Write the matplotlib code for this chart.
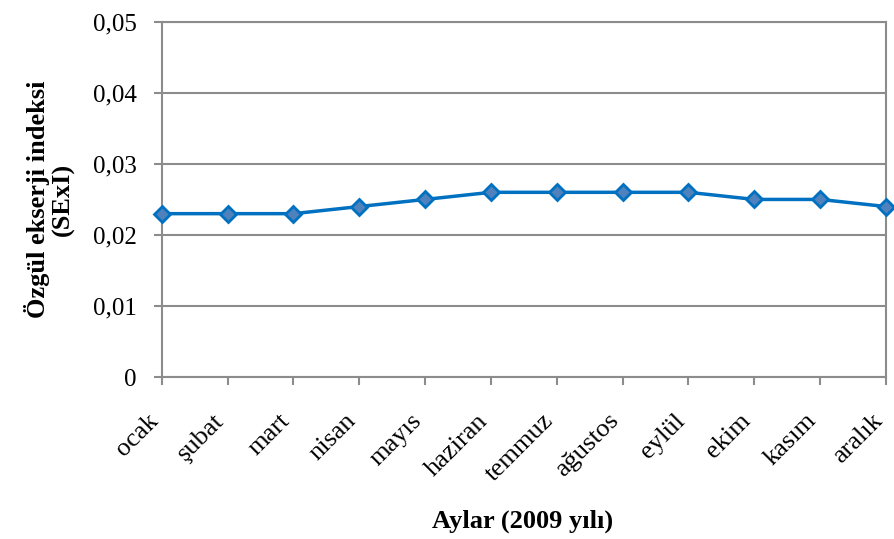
import matplotlib.pyplot as plt
import matplotlib.ticker as mticker
from matplotlib.transforms import ScaledTranslation

# aylık özgül ekserji indeksi
aylar = ['ocak', 'şubat', 'mart', 'nisan', 'mayıs', 'haziran',
         'temmuz', 'ağustos', 'eylül', 'ekim', 'kasım', 'aralık']
sexi = [0.023, 0.023, 0.023, 0.024, 0.025, 0.026,
        0.026, 0.026, 0.026, 0.025, 0.025, 0.024]
y_ticks = [0, 0.01, 0.02, 0.03, 0.04, 0.05]

plt.rcParams['font.family'] = ['Liberation Serif', 'DejaVu Serif']

fig = plt.figure(figsize=(8.94, 5.39), dpi=100)
ax = fig.add_axes([0.181, 0.300, 0.810, 0.660])

grey = '#8c8c8c'
x = list(range(len(aylar)))
ax.plot(x, sexi, color='#0070C0', linewidth=2.5, marker='D', markersize=8,
        markerfacecolor='#4F81BD', markeredgecolor='#0070C0', markeredgewidth=2,
        zorder=3, clip_on=False)

ax.set_xlim(0, len(aylar) - 1)
ax.set_ylim(0, 0.05)
ax.set_yticks(y_ticks)
ax.yaxis.set_major_formatter(mticker.FuncFormatter(
    lambda v, p: '0' if v == 0 else f'{v:.2f}'.replace('.', ',')))
ax.set_xticks(x)

ax.grid(axis='y', color=grey, linewidth=1.5)
ax.set_axisbelow(True)
for s in ax.spines.values():
    s.set_color(grey)
    s.set_linewidth(1.5)

ax.tick_params(axis='both', colors=grey, labelcolor='black',
               length=6, width=1.5, direction='out')
ax.tick_params(axis='x', pad=23, labelsize=19)
ax.tick_params(axis='y', pad=12, labelsize=18)

# tick_params'tan sonra: etiketleri döndür ve biraz sola kaydır
ax.set_xticklabels(aylar, rotation=45, ha='right', va='center',
                   rotation_mode='anchor')
shift = ScaledTranslation(-7 / 100, 0, fig.dpi_scale_trans)
for lbl in ax.get_xticklabels():
    lbl.set_transform(lbl.get_transform() + shift)

ax.set_ylabel('Özgül ekserji indeksi\n(SExI)', fontsize=19, fontweight='bold',
              labelpad=13, linespacing=1.1)
fig.text(0.584, 0.032, 'Aylar (2009 yılı)', fontsize=19, fontweight='bold',
         ha='center', va='center')

plt.savefig('out.png', dpi=100)
